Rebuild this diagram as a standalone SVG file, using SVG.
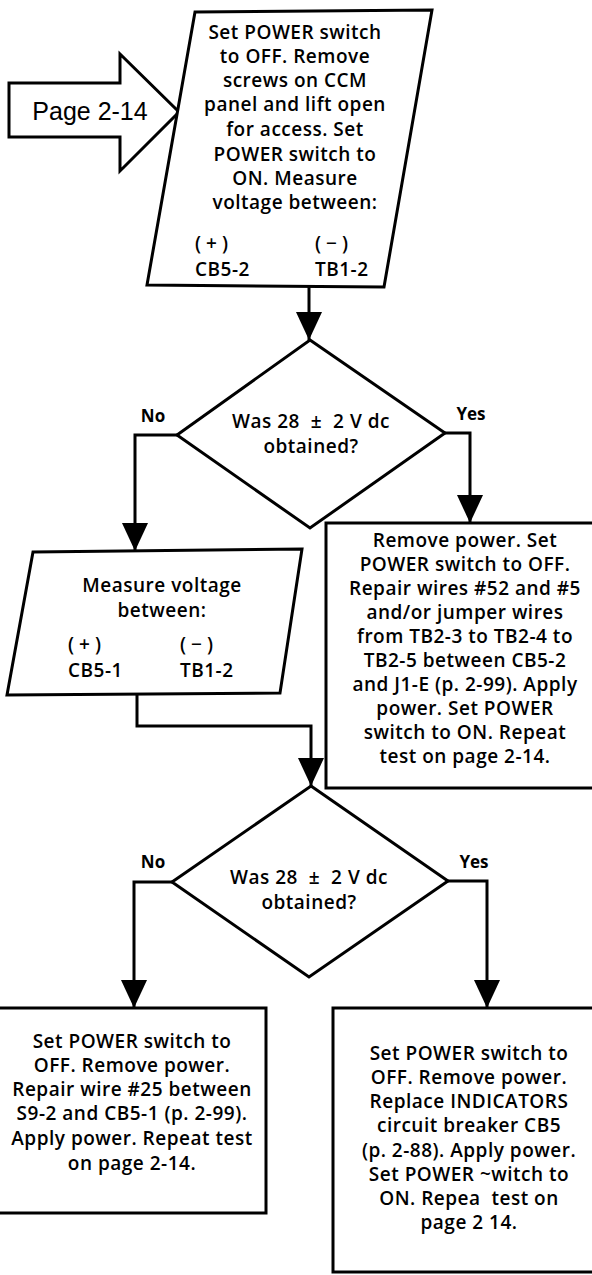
<svg xmlns="http://www.w3.org/2000/svg" width="592" height="1275" viewBox="0 0 592 1275">
<style>
.sh{fill:#fff;stroke:#000;stroke-width:3;stroke-linejoin:miter}
.ln{fill:none;stroke:#000;stroke-width:3;marker-end:url(#ah)}
.t{font-family:"Open Sans","Liberation Sans",sans-serif;font-size:19px;font-weight:600;letter-spacing:0.5px;fill:#000;text-anchor:middle}
.s{text-anchor:start}
.pm{letter-spacing:5px}
.lab{font-family:"Open Sans","Liberation Sans",sans-serif;font-size:17px;font-weight:700;fill:#000;text-anchor:middle}
.pg{font-family:"Liberation Sans",Arial,sans-serif;font-size:25px;fill:#000;text-anchor:middle}
</style>
<defs>
<marker id="ah" viewBox="0 0 28 26" refX="28" refY="13" markerWidth="28" markerHeight="26" orient="auto" markerUnits="userSpaceOnUse">
<path d="M0,0 L28,13 L0,26 Z" fill="#000"/>
</marker>
</defs>
<rect width="592" height="1275" fill="#fff"/>

<g id="connectors">
<path class="ln" d="M309,287 V340"/>
<path class="ln" d="M177,435 H135 V551"/>
<path class="ln" d="M445,433 H470 V523"/>
<path class="ln" d="M137,694 V726 H311 V786"/>
<path class="ln" d="M172,882 H134 V1008"/>
<path class="ln" d="M448,881 H487 V1008"/>
</g>

<g id="page-ref">
<polygon class="sh" points="9,83 120,83 120,54 179,112 120,171 120,137 9,137"/>
<text class="pg" x="90" y="120">Page 2-14</text>
</g>

<g id="step1">
<polygon class="sh" points="195,12 432,10 384,287 147,285"/>
<text class="t" x="295" y="39">Set POWER switch</text>
<text class="t" x="295" y="63">to OFF. Remove</text>
<text class="t" x="295" y="87">screws on CCM</text>
<text class="t" x="295" y="111">panel and lift open</text>
<text class="t" x="295" y="136">for access. Set</text>
<text class="t" x="295" y="161">POWER switch to</text>
<text class="t" x="295" y="185">ON. Measure</text>
<text class="t" x="295" y="209">voltage between:</text>
<text class="t s pm" x="195" y="250">(+)</text>
<text class="t s" x="195" y="276">CB5-2</text>
<text class="t s pm" x="315" y="250">(−)</text>
<text class="t s" x="315" y="276">TB1-2</text>
</g>

<g id="decision1">
<polygon class="sh" points="310,340 445,433 310,528 177,435"/>
<text class="t" x="311" y="428">Was 28 &#160;±&#160; 2 V dc</text>
<text class="t" x="311" y="453">obtained?</text>
<text class="lab" x="153" y="422">No</text>
<text class="lab" x="471" y="420">Yes</text>
</g>

<g id="repair1">
<rect class="sh" x="326" y="523" width="270" height="265"/>
<text class="t" x="465" y="547">Remove power. Set</text>
<text class="t" x="465" y="571">POWER switch to OFF.</text>
<text class="t" x="465" y="595">Repair wires #52 and #5</text>
<text class="t" x="465" y="619">and/or jumper wires</text>
<text class="t" x="465" y="643">from TB2-3 to TB2-4 to</text>
<text class="t" x="465" y="667">TB2-5 between CB5-2</text>
<text class="t" x="465" y="691">and J1-E (p. 2-99). Apply</text>
<text class="t" x="465" y="715">power. Set POWER</text>
<text class="t" x="465" y="739">switch to ON. Repeat</text>
<text class="t" x="465" y="763">test on page 2-14.</text>
</g>

<g id="step2">
<polygon class="sh" points="33,552 302,549 280,693 7,695"/>
<text class="t" x="162" y="592">Measure voltage</text>
<text class="t" x="162" y="617">between:</text>
<text class="t s pm" x="68" y="651">(+)</text>
<text class="t s" x="68" y="677">CB5-1</text>
<text class="t s pm" x="180" y="651">(−)</text>
<text class="t s" x="180" y="677">TB1-2</text>
</g>

<g id="decision2">
<polygon class="sh" points="311,786 448,881 309,977 172,882"/>
<text class="t" x="309" y="884">Was 28 &#160;±&#160; 2 V dc</text>
<text class="t" x="309" y="909">obtained?</text>
<text class="lab" x="153" y="868">No</text>
<text class="lab" x="474" y="868">Yes</text>
</g>

<g id="repair2">
<rect class="sh" x="-3" y="1008" width="269" height="205"/>
<text class="t" x="132" y="1048">Set POWER switch to</text>
<text class="t" x="132" y="1072">OFF. Remove power.</text>
<text class="t" x="132" y="1096">Repair wire #25 between</text>
<text class="t" x="132" y="1120">S9-2 and CB5-1 (p. 2-99).</text>
<text class="t" x="132" y="1145">Apply power. Repeat test</text>
<text class="t" x="132" y="1170">on page 2-14.</text>
</g>

<g id="replace">
<rect class="sh" x="333" y="1008" width="265" height="264"/>
<text class="t" x="469" y="1060">Set POWER switch to</text>
<text class="t" x="469" y="1084">OFF. Remove power.</text>
<text class="t" x="469" y="1108">Replace INDICATORS</text>
<text class="t" x="469" y="1132">circuit breaker CB5</text>
<text class="t" x="469" y="1157">(p. 2-88). Apply power.</text>
<text class="t" x="469" y="1181">Set POWER ~witch to</text>
<text class="t" x="469" y="1205">ON. Repea&#160; test on</text>
<text class="t" x="469" y="1229">page 2 14.</text>
</g>
</svg>
